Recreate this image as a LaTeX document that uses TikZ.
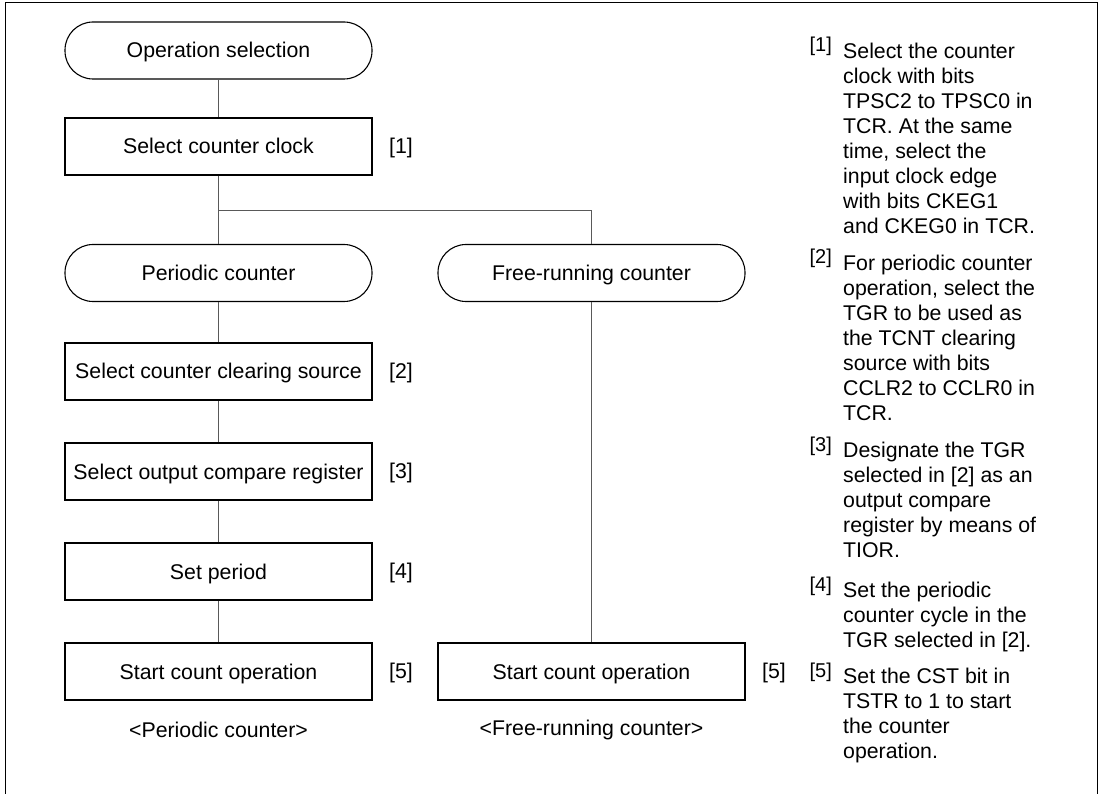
\documentclass[tikz,border=0pt]{standalone}
\usepackage{fontspec}
\setmainfont{Liberation Sans}
\usetikzlibrary{positioning}

\begin{document}
\begin{tikzpicture}[
    x=1pt, y=-1pt,
    every node/.style={font=\fontsize{21.3}{25}\selectfont},
    proc/.style={draw, line width=1.1pt, minimum width=307pt, minimum height=57pt, inner sep=0pt, text height=15pt, text depth=0pt},
    term/.style={proc, rounded corners=28pt},
    tag/.style={inner sep=0pt},
    note/.style={anchor=north west, align=left, inner sep=0pt},
    notetag/.style={anchor=base east, inner sep=0pt, font=\fontsize{20}{24}\selectfont},
    link/.style={line width=0.9pt, black!65}
]
\useasboundingbox (0,0) rectangle (1101,794);
\draw[line width=1pt] (5,794) -- (5,3) -- (1097,3) -- (1097,794);

% flow chart
\node[term] (opsel) at (218.5,50.5) {Operation selection};
\node[proc] (clock) at (218.5,146.5) {Select counter clock};
\node[term] (periodic) at (218.5,273) {Periodic counter};
\node[term] (freerun) at (591.5,273) {Free-running counter};
\node[proc] (clearsrc) at (218.5,371.5) {Select counter clearing source};
\node[proc] (compare) at (218.5,471.5) {Select output compare register};
\node[proc] (period) at (218.5,571.5) {Set period};
\node[proc] (startp) at (218.5,671.5) {Start count operation};
\node[proc] (startf) at (591.5,671.5) {Start count operation};
\coordinate (fork) at (218.5,210);

\node[tag] (tag1) at (401,148) {[1]};
\node[tag] (tag2) at (401,373) {[2]};
\node[tag] (tag3) at (401,473) {[3]};
\node[tag] (tag4) at (401,573) {[4]};
\node[tag] (tag5) at (401,673) {[5]};
\node[tag] (tag5f) at (774,673) {[5]};

\node (capp) at (218.5,730) {<Periodic counter>};
\node (capf) at (591.5,730) {<Free-running counter>};

\draw[link] (opsel) -- (clock);
\draw[link] (clock) -- (periodic);
\draw[link] (fork) -| (freerun);
\draw[link] (periodic) -- (clearsrc);
\draw[link] (clearsrc) -- (compare);
\draw[link] (compare) -- (period);
\draw[link] (period) -- (startp);
\draw[link] (freerun) -- (startf);

% notes
\node[notetag] (ntag1) at (832,52) {[1]};
\node[note] (note1) at (843,42.5) {Select the counter\\clock with bits\\TPSC2 to TPSC0 in\\TCR. At the same\\time, select the\\input clock edge\\with bits CKEG1\\and CKEG0 in TCR.};
\node[notetag] (ntag2) at (832,264) {[2]};
\node[note] (note2) at (843,254.5) {For periodic counter\\operation, select the\\TGR to be used as\\the TCNT clearing\\source with bits\\CCLR2 to CCLR0 in\\TCR.};
\node[notetag] (ntag3) at (832,451) {[3]};
\node[note] (note3) at (843,441.5) {Designate the TGR\\selected in [2] as an\\output compare\\register by means of\\TIOR.};
\node[notetag] (ntag4) at (832,591) {[4]};
\node[note] (note4) at (843,581.5) {Set the periodic\\counter cycle in the\\TGR selected in [2].};
\node[notetag] (ntag5) at (832,677) {[5]};
\node[note] (note5) at (843,667.5) {Set the CST bit in\\TSTR to 1 to start\\the counter\\operation.};
\end{tikzpicture}
\end{document}
